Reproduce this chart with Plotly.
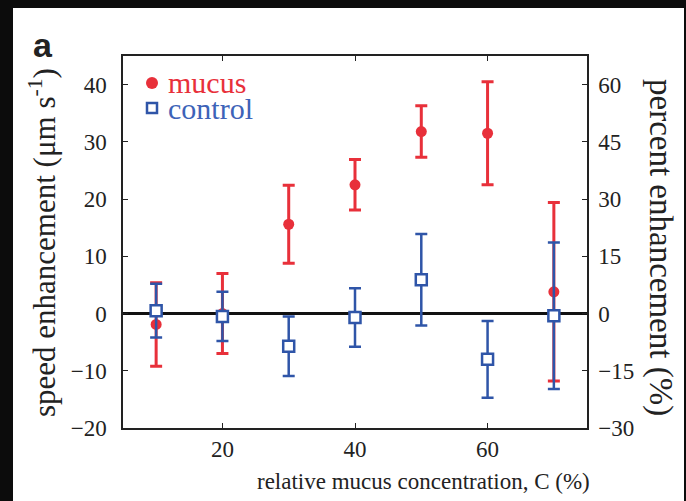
import plotly.graph_objects as go

# ---------------- data ----------------
conc = [10, 20, 30, 40, 50, 60, 70]
mucus_mean = [-1.9, 0.0, 15.6, 22.5, 31.8, 31.5, 3.8]
mucus_err = [7.3, 7.0, 6.8, 4.4, 4.5, 9.0, 15.6]
control_mean = [0.5, -0.5, -5.7, -0.7, 5.9, -8.0, -0.4]
control_err = [4.7, 4.3, 5.2, 5.1, 8.0, 6.7, 12.8]

left_ticks = [-20, -10, 0, 10, 20, 30, 40]
right_ticks = [-30, -15, 0, 15, 30, 45, 60]
x_ticks = [20, 40, 60]

RED = "#e8303a"
BLUE = "#2f55a8"
FONT = "Liberation Serif, Times New Roman, serif"

W, H = 686, 501
ML, MR, MT, MB = 123, 99, 56, 73
PW, PH = W - ML - MR, H - MT - MB


def px(xp):
    return (xp - ML) / PW


def py(yp):
    return (H - MB - yp) / PH


fig = go.Figure()

fig.add_trace(go.Scatter(
    x=conc, y=mucus_mean, mode="markers", name="mucus",
    marker=dict(symbol="circle", size=11, color=RED),
    error_y=dict(type="data", array=mucus_err, color=RED, thickness=3, width=6),
    showlegend=False,
))
fig.add_trace(go.Scatter(
    x=conc, y=control_mean, mode="markers", name="control",
    marker=dict(symbol="square", size=11, color="white", line=dict(color=BLUE, width=2.5)),
    error_y=dict(type="data", array=control_err, color=BLUE, thickness=2.5, width=6),
    showlegend=False,
))
# invisible trace to activate the right axis
fig.add_trace(go.Scatter(x=[conc[0]], y=[0], yaxis="y2", mode="markers",
                         marker=dict(opacity=0), showlegend=False, hoverinfo="skip"))

axis_common = dict(
    showline=True, linecolor="#222", linewidth=1.5, ticks="inside", ticklen=5,
    tickcolor="#222", tickwidth=1, showgrid=False,
    tickfont=dict(family=FONT, size=23, color="#222"),
)

fig.update_layout(
    width=W, height=H, autosize=False,
    margin=dict(l=ML, r=MR, t=MT, b=MB),
    paper_bgcolor="#0c0c0c", plot_bgcolor="white",
    xaxis=dict(range=[5, 75], tickvals=x_ticks, mirror="ticks",
               zeroline=False, ticklabelstandoff=0, **axis_common),
    yaxis=dict(range=[-20, 45], tickvals=left_ticks, mirror=False,
               zeroline=True, zerolinecolor="#111", zerolinewidth=2.5,
               ticklabelstandoff=10, **axis_common),
    yaxis2=dict(range=[-30, 67.5], tickvals=right_ticks, overlaying="y", side="right",
                zeroline=False, ticklabelstandoff=5, **axis_common),
)

# white panel
fig.add_shape(type="rect", xref="paper", yref="paper",
              x0=px(13), x1=px(684), y0=py(510), y1=py(8),
              fillcolor="white", line=dict(width=0), layer="below")

# legend (manual, to reproduce the tight spacing)
fig.add_shape(type="circle", xref="paper", yref="paper",
              x0=px(146), x1=px(158), y0=py(89), y1=py(77),
              fillcolor=RED, line=dict(width=0))
fig.add_shape(type="rect", xref="paper", yref="paper",
              x0=px(147), x1=px(157), y0=py(113), y1=py(103),
              fillcolor="white", line=dict(color=BLUE, width=2.5))
fig.add_annotation(x=px(166), y=py(82), xref="paper", yref="paper", text="mucus",
                   showarrow=False, xanchor="left", yanchor="middle",
                   font=dict(family=FONT, size=30, color=RED))
fig.add_annotation(x=px(166), y=py(108), xref="paper", yref="paper", text="control",
                   showarrow=False, xanchor="left", yanchor="middle",
                   font=dict(family=FONT, size=30, color="#3d63b8"))

# axis titles
fig.add_annotation(x=px(42), y=py(243), xref="paper", yref="paper",
                   text="speed enhancement (μm s<sup>-1</sup>)", textangle=-90,
                   showarrow=False, xanchor="center", yanchor="middle",
                   font=dict(family=FONT, size=31, color="#222"))
fig.add_annotation(x=px(661), y=py(247), xref="paper", yref="paper",
                   text="percent enhancement (%)", textangle=90,
                   showarrow=False, xanchor="center", yanchor="middle",
                   font=dict(family=FONT, size=33, color="#222"))
fig.add_annotation(x=px(423), y=py(481), xref="paper", yref="paper",
                   text="relative mucus concentration, C (%)",
                   showarrow=False, xanchor="center", yanchor="middle",
                   font=dict(family=FONT, size=23, color="#222"))

# panel label
fig.add_annotation(x=px(43), y=py(45), xref="paper", yref="paper", text="<b>a</b>",
                   showarrow=False, xanchor="center", yanchor="middle",
                   font=dict(family="Liberation Sans", size=34, color="#222"))

fig.write_html("out.html")
